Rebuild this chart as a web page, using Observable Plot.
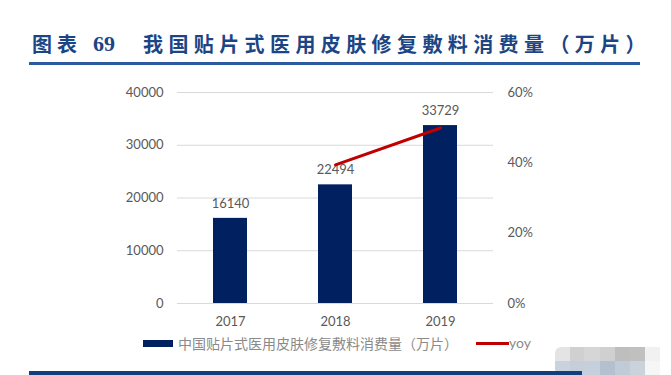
<!DOCTYPE html>
<html>
<head>
<meta charset="utf-8">
<script src="https://cdn.jsdelivr.net/npm/d3@7"></script>
<script src="https://cdn.jsdelivr.net/npm/@observablehq/plot@0.6"></script>
<style>
  html, body { margin: 0; padding: 0; background: #fff; }
  body { width: 671px; height: 375px; position: relative; overflow: hidden; }
  .abs { position: absolute; }
  #title { top: 30px; left: 0; height: 28px; color: #1b4585; font-weight: 700; white-space: nowrap; }
  #title span { position: absolute; top: 0; font-size: 20px; line-height: 28px; }
  #t1 { left: 32px; letter-spacing: 5px; font-family: "Noto Sans CJK SC", sans-serif; }
  #t2 { left: 93px; font-family: "Liberation Serif", serif; font-size: 22px !important; }
  #t3 { left: 143px; letter-spacing: 5.4px; font-family: "Noto Sans CJK SC", sans-serif; }
  #rule1 { left: 29px; top: 62px; width: 611px; height: 3px; background: #2b5b9e; }
  #rule2 { left: 29px; top: 371px; width: 553px; height: 4px; background: #123f7c; }
  #chart { left: 0; top: 75px; }
  #legend { top: 334px; left: 0; height: 18px; font-size: 14px; color: #8a8a8a; white-space: nowrap; }
  .sw1 { left: 143px; top: 6px; width: 30px; height: 7px; background: #002060; }
  .lt1 { left: 178px; top: 0; line-height: 18px; font-family: "Noto Sans CJK SC", sans-serif; }
  .sw2 { left: 476px; top: 8px; width: 33px; height: 3px; background: #c00000; }
  .lt2 { left: 509px; top: 0; line-height: 18px; font-family: Lato, sans-serif; }
  #mosaic { left: 555px; top: 347px; width: 105px; height: 28px;
    background:
      linear-gradient(to right, #e4e4e4 0 14%, #d0d0d0 14% 28%, #d6d6d6 28% 43%, #d0d0d0 43% 57%, #bebebe 57% 71%, #c0c0c0 71% 86%, #f1f1f1 86% 100%) top/100% 50% no-repeat,
      linear-gradient(to right, #c9d3de 0 14%, #c4cfdb 14% 28%, #c6d0dc 28% 43%, #b2c0d0 43% 57%, #c0cbd8 57% 71%, #cad2dc 71% 86%, #f6f6f6 86% 100%) bottom/100% 50% no-repeat;
    border-radius: 6px 0 0 6px; }
</style>
</head>
<body>
<div id="title" class="abs"><span id="t1">图表</span><span id="t2">69</span><span id="t3">我国贴片式医用皮肤修复敷料消费量（万片）</span></div>
<div id="rule1" class="abs"></div>
<div id="chart" class="abs"></div>
<div id="legend" class="abs">
  <div class="abs sw1"></div><div class="abs lt1">中国贴片式医用皮肤修复敷料消费量（万片）</div>
  <div class="abs sw2"></div><div class="abs lt2">yoy</div>
</div>
<div id="mosaic" class="abs"></div>
<div id="rule2" class="abs"></div>
<script>
// Data
const years = ["2017", "2018", "2019"];
const consumption = [16140, 22494, 33729];
const yoy = [null, 0.394, 0.499];
const leftTicks = [0, 10000, 20000, 30000, 40000];
const rightTicks = [0, 0.2, 0.4, 0.6];
const leftMax = 40000;
const rightMax = 0.6;

const toLeft = v => v / rightMax * leftMax;
const bars = years.map((y, i) => ({year: y, value: consumption[i]}));
const yoyData = years.map((y, i) => ({year: y, yoy: yoy[i]})).filter(d => d.yoy != null);

const font = "Lato, 'Liberation Sans', sans-serif";
const chart = Plot.plot({
  width: 671,
  height: 255,
  marginTop: 17,
  marginBottom: 27,
  marginLeft: 177,
  marginRight: 178,
  style: {fontFamily: font, fontSize: "13px", color: "#595959", background: "transparent"},
  x: {domain: years, paddingInner: 0.676, paddingOuter: 0.338, label: null},
  y: {domain: [0, leftMax], label: null},
  marks: [
    Plot.gridY(leftTicks, {stroke: "#d9d9d9", strokeOpacity: 1, strokeWidth: 1}),
    Plot.barY(bars, {x: "year", y: "value", fill: "#002060"}),
    Plot.text(bars, {x: "year", y: "value", text: d => String(d.value), dy: -15, fill: "#595959", fontSize: 13}),
    Plot.line(yoyData, {x: "year", y: d => toLeft(d.yoy), stroke: "#c00000", strokeWidth: 3}),
    Plot.axisY(leftTicks, {anchor: "left", tickSize: 0, tickPadding: 14, tickFormat: d => String(d), fill: "#595959", fontSize: 13, label: null}),
    Plot.axisY(rightTicks.map(toLeft), {anchor: "right", tickSize: 0, tickPadding: 14, tickFormat: (d, i) => Math.round(rightTicks[i] * 100) + "%", fill: "#595959", fontSize: 13, label: null}),
    Plot.axisX({tickSize: 0, tickPadding: 13, fill: "#595959", fontSize: 13, label: null})
  ]
});
document.getElementById("chart").appendChild(chart);
</script>
</body>
</html>
